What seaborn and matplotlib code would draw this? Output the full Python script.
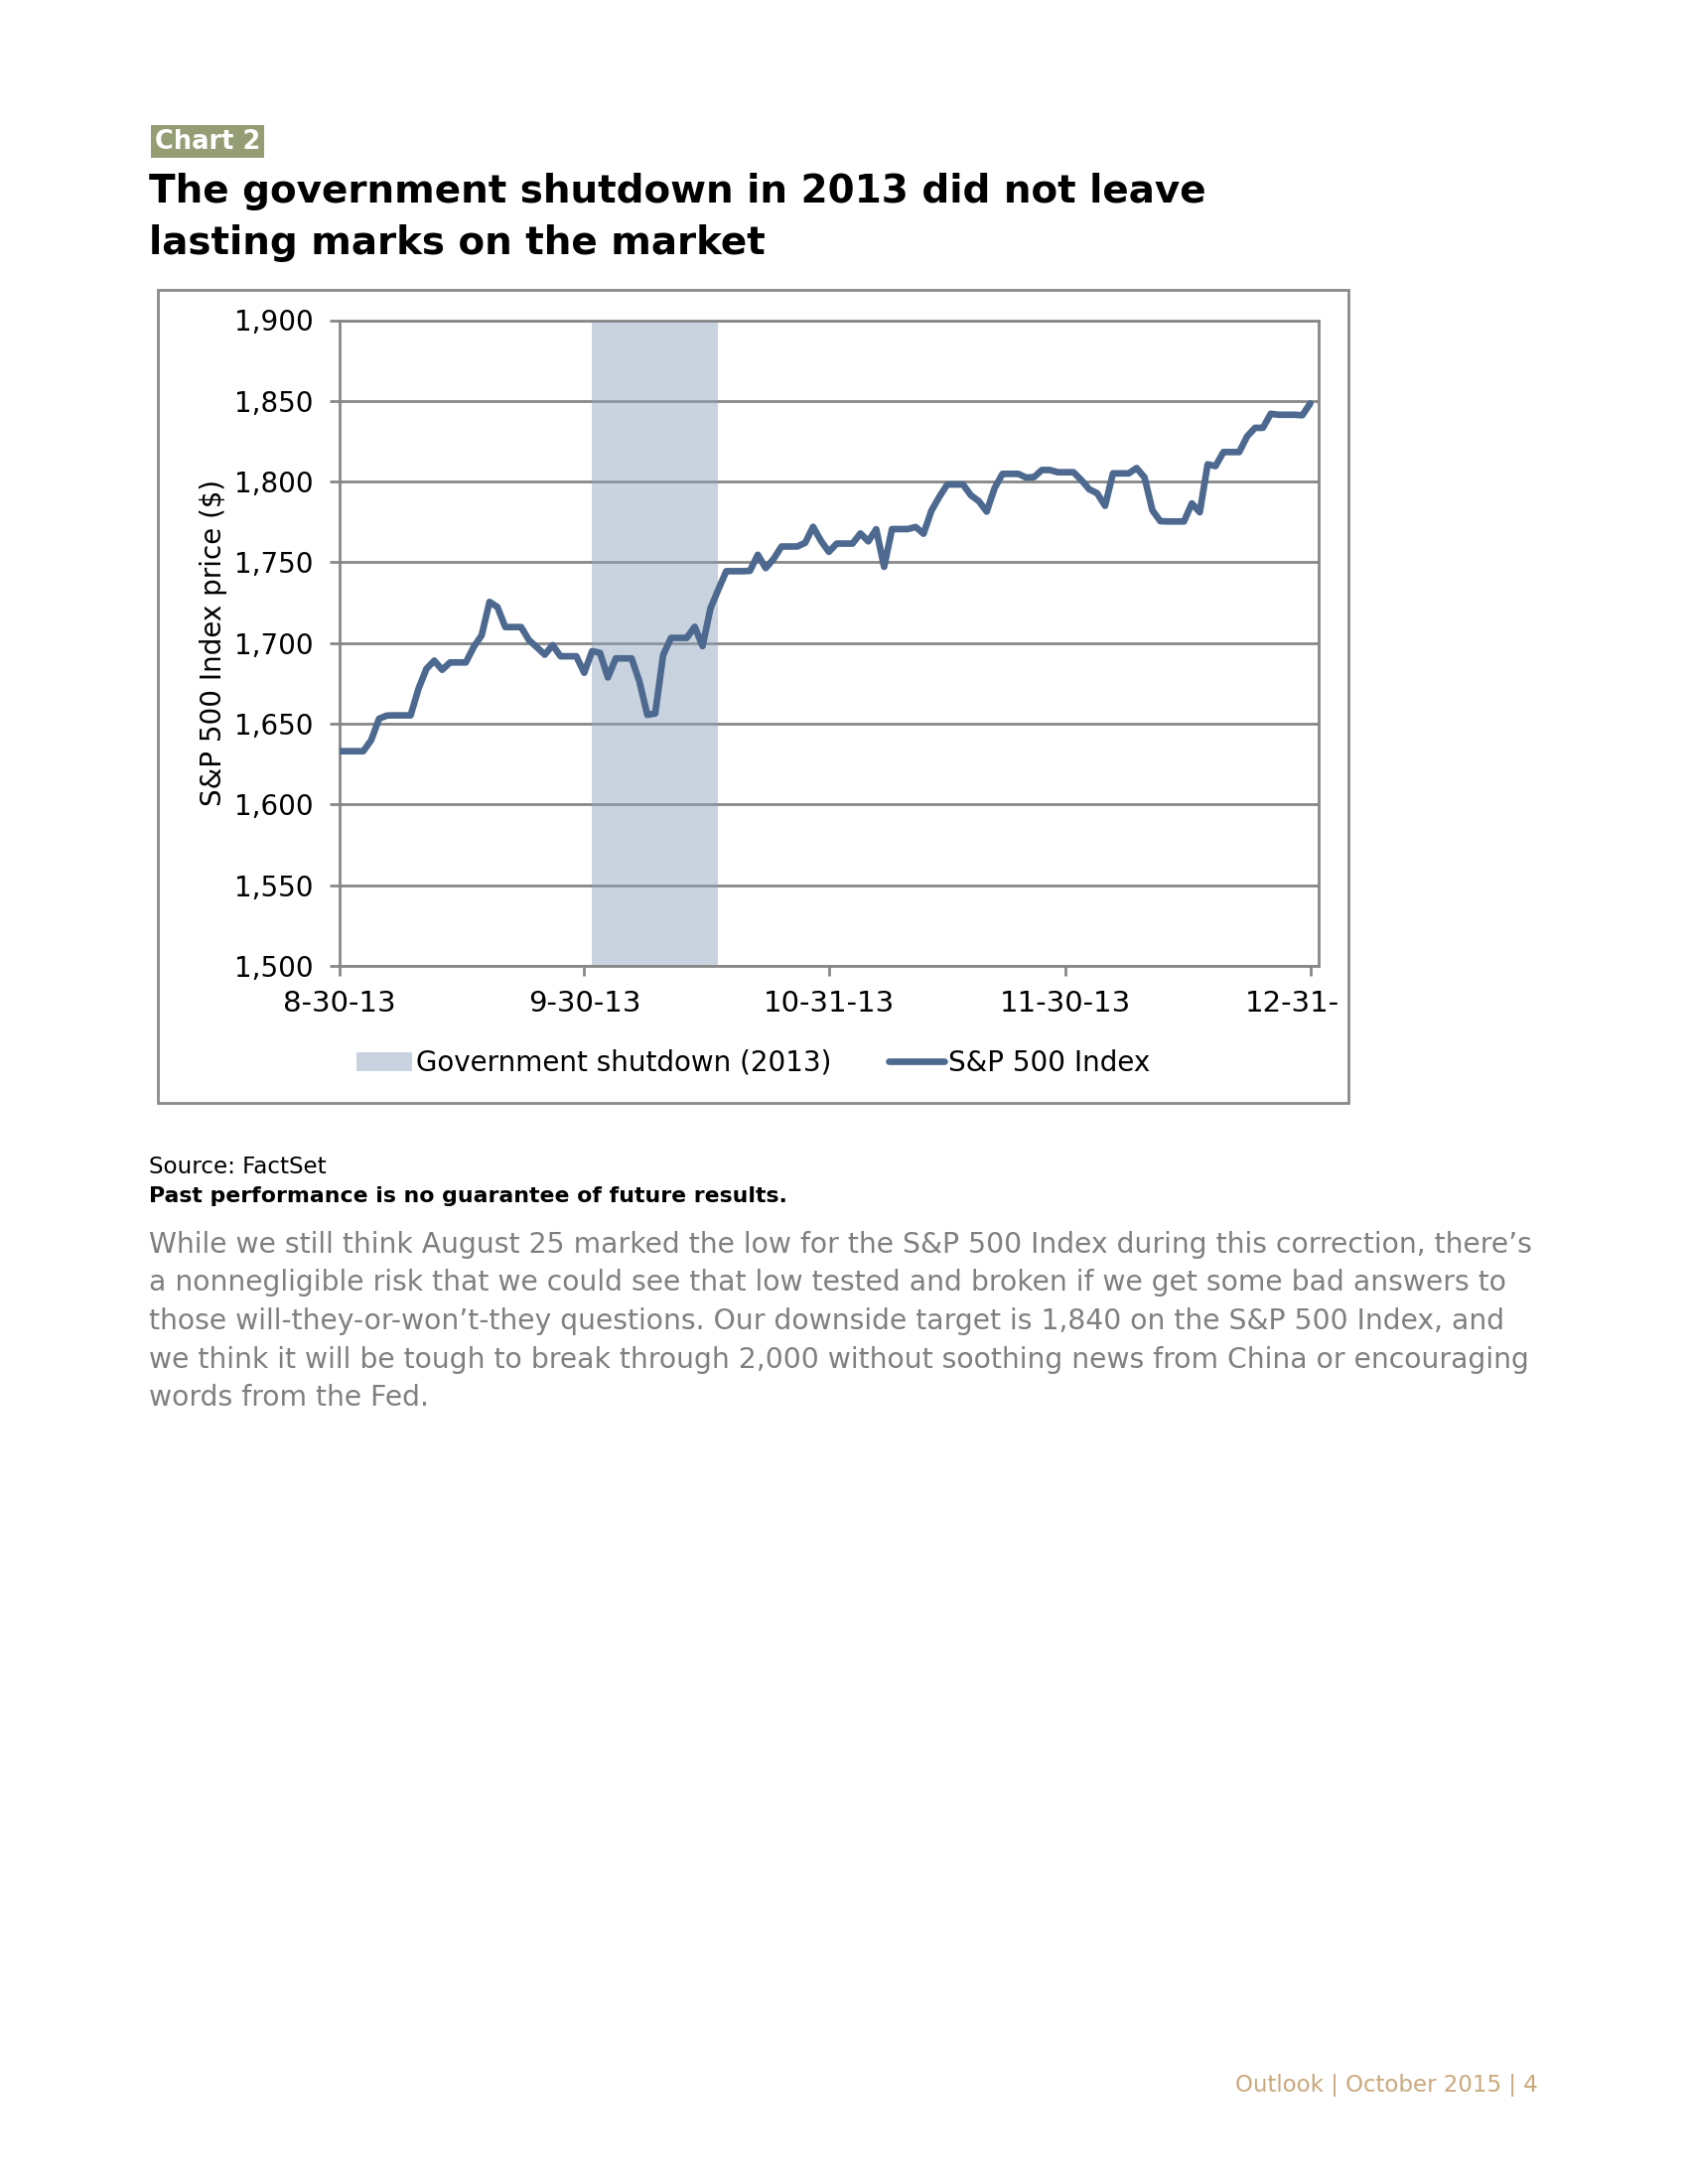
import pandas as pd
import matplotlib.pyplot as plt
import seaborn as sns
from matplotlib.patches import Patch, Rectangle
from matplotlib.lines import Line2D
from matplotlib.transforms import Bbox, TransformedBbox

# Dados: fechamento diario do S&P 500 (dias sem pregao repetem o ultimo valor)
dias = pd.date_range('2013-08-30', '2013-12-31', freq='D')
sp500 = [
    1633.0, 1633.0, 1633.0, 1633.0, 1639.8, 1653.1, 1655.1,
    1655.2, 1655.2, 1655.2, 1671.7, 1684.0, 1689.1, 1683.4,
    1688.0, 1688.0, 1688.0, 1697.6, 1704.8, 1725.5, 1722.3,
    1709.9, 1709.9, 1709.9, 1701.8, 1697.4, 1692.8, 1698.7,
    1691.8, 1691.8, 1691.8, 1681.6, 1695.0, 1693.9, 1678.7,
    1690.5, 1690.5, 1690.5, 1676.1, 1655.5, 1656.4, 1692.6,
    1703.2, 1703.2, 1703.2, 1710.1, 1698.1, 1721.5, 1733.2,
    1744.5, 1744.5, 1744.5, 1744.7, 1754.7, 1746.4, 1752.1,
    1759.8, 1759.8, 1759.8, 1762.1, 1772.0, 1763.3, 1756.5,
    1761.6, 1761.6, 1761.6, 1767.9, 1763.0, 1770.5, 1747.2,
    1770.6, 1770.6, 1770.6, 1771.9, 1767.7, 1782.0, 1790.6,
    1798.2, 1798.2, 1798.2, 1791.5, 1787.9, 1781.4, 1795.9,
    1804.8, 1804.8, 1804.8, 1802.5, 1802.8, 1807.2, 1807.2,
    1805.8, 1805.8, 1805.8, 1800.9, 1795.2, 1792.8, 1785.0,
    1805.1, 1805.1, 1805.1, 1808.4, 1802.6, 1782.2, 1775.5,
    1775.3, 1775.3, 1775.3, 1786.5, 1781.0, 1810.7, 1809.6,
    1818.3, 1818.3, 1818.3, 1828.0, 1833.3, 1833.3, 1842.0,
    1841.4, 1841.4, 1841.4, 1841.1, 1848.4,
]
shutdown_inicio = '2013-10-01'
shutdown_fim = '2013-10-17'
ticks_x = ['2013-08-30', '2013-09-30', '2013-10-31', '2013-11-30', '2013-12-31']
rotulos_x = ['8-30-13', '9-30-13', '10-31-13', '11-30-13', '12-31-13']
ticks_y = [1500, 1550, 1600, 1650, 1700, 1750, 1800, 1850, 1900]

paragrafo = [
    "While we still think August 25 marked the low for the S&P 500 Index during this correction, there\u2019s",
    "a nonnegligible risk that we could see that low tested and broken if we get some bad answers to",
    "those will-they-or-won\u2019t-they questions. Our downside target is 1,840 on the S&P 500 Index, and",
    "we think it will be tough to break through 2,000 without soothing news from China or encouraging",
    "words from the Fed.",
]

# Cores
COR_LINHA = '#4d6990'
COR_FAIXA = '#8ea3bc'
COR_GRADE = '#878787'

sns.set_style('white')
plt.rcParams['font.family'] = ['DejaVu Sans']
plt.rcParams['text.color'] = 'black'
plt.rcParams['axes.labelcolor'] = 'black'

W, H = 1700, 2200


def fx(x):
    return x / W


def fy(y):
    return 1 - y / H


fig = plt.figure(figsize=(17, 22), dpi=100)
ax = fig.add_axes([fx(342), fy(973), (1327.5 - 342) / W, (973 - 322.5) / H])

# Faixa do shutdown e linha do indice
ax.axvspan(pd.Timestamp(shutdown_inicio), pd.Timestamp(shutdown_fim),
           color=COR_FAIXA, alpha=0.48, lw=0, zorder=2)
sns.lineplot(x=dias, y=sp500, ax=ax, color=COR_LINHA, lw=4.8, legend=False, zorder=3)

ax.set_xlim(pd.Timestamp('2013-08-30'), pd.Timestamp('2014-01-01'))
ax.set_ylim(1500, 1900)
ax.set_xticks(pd.to_datetime(ticks_x))
ax.set_xticklabels(rotulos_x)
ax.set_yticks(ticks_y)
ax.set_yticklabels([f'{v:,}' for v in ticks_y])

ax.yaxis.grid(True, color=COR_GRADE, lw=2.0, zorder=1)
ax.set_axisbelow(True)
for lado in ['left', 'bottom', 'right', 'top']:
    ax.spines[lado].set_color(COR_GRADE)
    ax.spines[lado].set_linewidth(2.0)
ax.tick_params(axis='both', direction='out', length=7, width=2.0, color=COR_GRADE,
               labelcolor='black', bottom=True, left=True, top=False, right=False)
ax.tick_params(axis='y', pad=12, labelsize=20)
ax.tick_params(axis='x', pad=10.5, labelsize=21)
ax.set_xlabel('')
ax.set_ylabel('S&P 500 Index price ($)', fontsize=20)
ax.yaxis.set_label_coords(-0.115, 0.5)

# Moldura do grafico
moldura = Rectangle((fx(158.5), fy(1111)), (1358 - 158.5) / W, (1111 - 291.7) / H,
                    transform=fig.transFigure, fill=False, ec='#8a8a8a', lw=2.0)
fig.patches.append(moldura)

# Ultimo rotulo cortado pela moldura
corte = TransformedBbox(Bbox.from_extents(0, 0, fx(1349), 1), fig.transFigure)
ultimo = ax.get_xticklabels()[-1]
ultimo.set_clip_box(corte)
ultimo.set_clip_on(True)

# Legenda
alcas = [Patch(facecolor='#c9d3df', edgecolor='none', label='Government shutdown (2013)'),
         Line2D([0], [0], color=COR_LINHA, lw=4.8, label='S&P 500 Index')]
fig.legend(handles=alcas, loc='center left', bbox_to_anchor=(fx(359), fy(1071)),
           ncol=2, frameon=False, fontsize=20, handlelength=2.0, handletextpad=0.15,
           columnspacing=2.1, borderpad=0, borderaxespad=0)

# Textos da pagina
fig.text(fx(155.5), fy(142.5), 'Chart 2', color='white', weight='bold', size=18.5, va='center',
         bbox=dict(boxstyle='square,pad=0.15', fc='#959d74', ec='none'))
fig.text(fx(150), fy(204), 'The government shutdown in 2013 did not leave',
         weight='bold', size=28, va='baseline')
fig.text(fx(150), fy(256.5), 'lasting marks on the market', weight='bold', size=28, va='baseline')

fig.text(fx(150), fy(1175), 'Source: FactSet', size=16.6, va='center')
fig.text(fx(150), fy(1205), 'Past performance is no guarantee of future results.',
         size=15.8, weight='bold', va='center')

for i, linha in enumerate(paragrafo):
    fig.text(fx(150), fy(1254 + i * 38.5), linha, size=20.35, color='#7f7f7f', va='center')

fig.text(fx(1549), fy(2100), 'Outlook | October 2015 | 4', ha='right', va='center',
         size=16.5, color='#c9a87c')

fig.savefig('out.png', dpi=100)
